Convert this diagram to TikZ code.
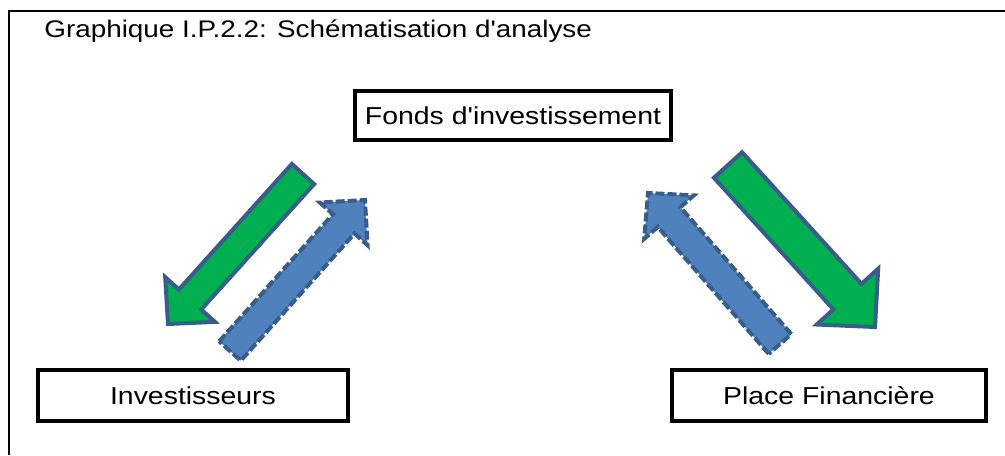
\documentclass[tikz,border=0pt]{standalone}
\usepackage{fontspec}
\setmainfont[FakeStretch=1.16,Ligatures=TeXOff]{Liberation Sans}
\usetikzlibrary{calc}
\definecolor{arrowgreen}{HTML}{00B050}
\definecolor{arrowblue}{HTML}{4F81BD}
\definecolor{arrowline}{HTML}{385D8A}
\newcommand\blockarrow[6]{%
  \path ($(#3)!#6!(#2)$) coordinate (ba-h);
  \draw[#1] ($(#2)!#4!90:(#3)$) -- ($(ba-h)!#4!90:(#3)$) -- ($(ba-h)!#5!90:(#3)$) -- (#3)
    -- ($(ba-h)!#5!-90:(#3)$) -- ($(ba-h)!#4!-90:(#3)$) -- ($(#2)!#4!-90:(#3)$) -- cycle;
}
\tikzset{
  txt/.style={font=\fontsize{12.25}{14}\selectfont},
  box/.style={draw, line width=2pt, inner sep=0pt, txt},
  frame/.style={line width=1.25pt},
  greenarrow/.style={fill=arrowgreen, draw=arrowline, line width=2pt, line join=miter},
  bluearrow/.style={fill=arrowblue, draw=arrowline, line width=2pt, line join=miter, dash pattern=on 4.5pt off 1.5pt},
}
\begin{document}
\begin{tikzpicture}[x=0.5pt,y=-0.5pt]
\useasboundingbox (0,0) rectangle (1005,455);
% frame
\coordinate (fTL) at (9,11);
\coordinate (fTR) at (1005,11);
\coordinate (fBL) at (9,455);
\draw[frame] (fBL) -- (fTL) -- (fTR);
% title
\node[anchor=base west, inner sep=0pt, font=\fontsize{12}{14}\selectfont] (title) at (44,37) {Graphique I.P.2.2: Schématisation d'analyse};
% boxes
\node[box, minimum width=158pt, minimum height=24.5pt] (fonds) at (513,115.5) {Fonds d'investissement};
\node[box, minimum width=155pt, minimum height=25.5pt] (inv) at (193,395.5) {Investisseurs};
\node[box, minimum width=157pt, minimum height=25.5pt] (place) at (829,395.5) {Place Financière};
% arrow end points
\coordinate (gLtail) at (303,174);
\coordinate (gLtip) at (168,324);
\coordinate (bLtail) at (230,351);
\coordinate (bLtip) at (365,200);
\coordinate (bRtail) at (780,344);
\coordinate (bRtip) at (648,193);
\coordinate (gRtail) at (728,165);
\coordinate (gRtip) at (875,327);
\blockarrow{greenarrow}{gLtail}{gLtip}{7.5pt}{16.75pt}{16.5pt}
\blockarrow{bluearrow}{bLtail}{bLtip}{7.25pt}{16pt}{16pt}
\blockarrow{bluearrow}{bRtail}{bRtip}{7.5pt}{16.5pt}{16pt}
\blockarrow{greenarrow}{gRtail}{gRtip}{9.5pt}{20.75pt}{20.5pt}
\end{tikzpicture}
\end{document}
